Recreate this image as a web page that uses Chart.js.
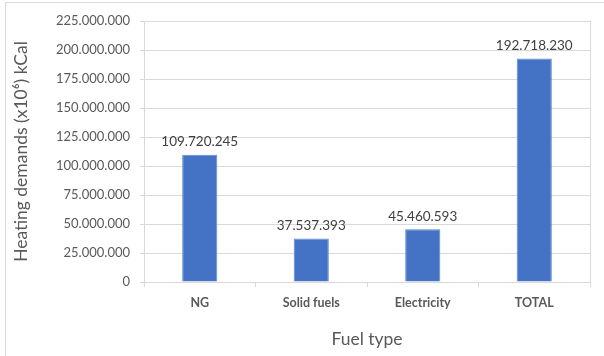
<!DOCTYPE html>
<html>
<head>
<meta charset="utf-8">
<script src="https://cdn.jsdelivr.net/npm/chart.js@4.4.1/dist/chart.umd.min.js"></script>
<style>
  html, body { margin: 0; padding: 0; background: #ffffff; }
  #wrap { width: 604px; height: 356px; position: relative; }
</style>
</head>
<body>
<div id="wrap"><canvas id="c" width="604" height="356"></canvas></div>
<script>
// Heating demand per fuel type (x10^6 kCal)
const categories = ['NG', 'Solid fuels', 'Electricity', 'TOTAL'];
const demands = [109720245, 37537393, 45460593, 192718230];
const yMax = 225000000;
const yStep = 25000000;

const FONT = 'Lato, "Open Sans", sans-serif';
const TEXT = '#595959';

// thousands separated with dots
function fmt(v) {
  return String(Math.round(v)).replace(/\B(?=(\d{3})+(?!\d))/g, '.');
}

// outer frame + plot-area outline
const framePlugin = {
  id: 'frame',
  beforeDraw(chart) {
    const ctx = chart.ctx;
    ctx.save();
    ctx.fillStyle = '#ffffff';
    ctx.fillRect(0, 0, chart.width, chart.height);
    ctx.strokeStyle = '#d9d9d9';
    ctx.lineWidth = 1;
    ctx.strokeRect(5.5, 2.5, chart.width + 10, chart.height + 10);
    ctx.restore();
  },
  afterDatasetsDraw(chart) {
    const ctx = chart.ctx;
    const a = chart.chartArea;
    ctx.save();
    ctx.strokeStyle = '#d9d9d9';
    ctx.lineWidth = 1;
    ctx.beginPath();
    ctx.moveTo(Math.round(a.right) + 0.5, a.top);
    ctx.lineTo(Math.round(a.right) + 0.5, a.bottom);
    ctx.stroke();
    ctx.restore();
  }
};

// value labels above the bars
const valueLabels = {
  id: 'valueLabels',
  afterDatasetsDraw(chart) {
    const ctx = chart.ctx;
    const meta = chart.getDatasetMeta(0);
    const values = chart.data.datasets[0].data;
    ctx.save();
    ctx.font = '13.5px ' + FONT;
    ctx.fillStyle = '#404040';
    ctx.textAlign = 'center';
    ctx.textBaseline = 'bottom';
    meta.data.forEach((bar, i) => {
      ctx.fillText(fmt(values[i]), bar.x, bar.y - 6);
    });
    ctx.restore();
  }
};

new Chart(document.getElementById('c'), {
  type: 'bar',
  data: {
    labels: categories,
    datasets: [{
      data: demands,
      backgroundColor: '#4472c4',
      borderColor: '#5b86d4',
      borderWidth: 1,
      categoryPercentage: 1,
      barPercentage: 0.315
    }]
  },
  options: {
    responsive: false,
    animation: false,
    devicePixelRatio: 1,
    layout: { padding: { top: 21, right: 14, left: 0, bottom: 0 } },
    plugins: {
      legend: { display: false },
      tooltip: { enabled: false }
    },
    scales: {
      x: {
        grid: {
          display: true,
          drawOnChartArea: false,
          drawTicks: true,
          tickLength: 5,
          color: '#d9d9d9',
          offset: true
        },
        border: { color: '#d9d9d9' },
        ticks: {
          color: TEXT,
          font: { family: FONT, size: 12.5, weight: 'bold' },
          padding: 8,
          maxRotation: 0
        },
        title: {
          display: true,
          text: 'Fuel type',
          color: TEXT,
          font: { family: FONT, size: 17.5 },
          padding: { top: 0, bottom: 6 }
        },
        afterFit(scale) { scale.height = 74; }
      },
      y: {
        min: 0,
        max: yMax,
        ticks: {
          stepSize: yStep,
          color: TEXT,
          font: { family: FONT, size: 13 },
          padding: 10,
          callback: (v) => fmt(v)
        },
        grid: {
          color: '#d9d9d9',
          tickLength: 4,
          drawTicks: true
        },
        border: { color: '#d9d9d9' },
        title: {
          display: true,
          text: 'Heating demands (x10\u2076) kCal',
          color: TEXT,
          font: { family: FONT, size: 17.5 },
          padding: { top: 11, bottom: 0 }
        },
        afterFit(scale) { scale.width = 144; }
      }
    }
  },
  plugins: [framePlugin, valueLabels]
});
</script>
</body>
</html>
